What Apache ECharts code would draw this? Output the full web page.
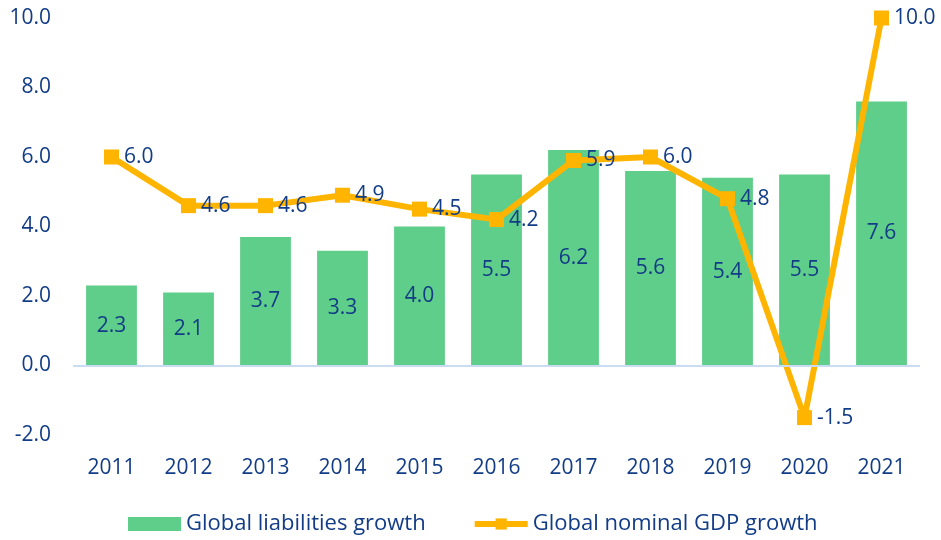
<!DOCTYPE html>
<html>
<head>
<meta charset="utf-8">
<script src="https://cdn.jsdelivr.net/npm/echarts@6/dist/echarts.min.js"></script>
<style>
  html, body { margin: 0; padding: 0; background: #fff; }
  #main { width: 941px; height: 540px; }
</style>
</head>
<body>
<div id="main"></div>
<script>
var years = ['2011','2012','2013','2014','2015','2016','2017','2018','2019','2020','2021'];
var liabilities = [2.3, 2.1, 3.7, 3.3, 4.0, 5.5, 6.2, 5.6, 5.4, 5.5, 7.6];
var nominalGdp = [6.0, 4.6, 4.6, 4.9, 4.5, 4.2, 5.9, 6.0, 4.8, -1.5, 10.0];

var textColor = '#123c86';
var fontFam = '"Open Sans", Lato, sans-serif';

var chart = echarts.init(document.getElementById('main'));
var option = {
    animation: false,
    textStyle: { fontFamily: fontFam },
    grid: { left: 73, right: 21, top: 18, bottom: 105 },
    legend: {
        top: 508,
        left: 123,
        itemWidth: 53,
        itemHeight: 14,
        itemGap: 46,
        lineStyle: { width: 6 },
        textStyle: { color: textColor, fontSize: 22, fontFamily: fontFam },
        data: [
            { name: 'Global liabilities growth', icon: 'rect' },
            { name: 'Global nominal GDP growth' }
        ]
    },
    xAxis: {
        type: 'category',
        data: years,
        axisLine: { show: false, onZero: false },
        axisTick: { show: false },
        axisLabel: { color: textColor, fontSize: 21, margin: 23 }
    },
    yAxis: {
        type: 'value',
        min: -2,
        max: 10,
        interval: 2,
        splitLine: { show: false },
        axisLabel: {
            color: textColor,
            fontSize: 21,
            margin: 22,
            formatter: function (v) { return v.toFixed(1); }
        }
    },
    series: [
        {
            name: 'Global liabilities growth',
            type: 'bar',
            data: liabilities,
            barWidth: '66%',
            itemStyle: { color: '#5fce8a' },
            label: {
                show: true,
                position: 'inside',
                color: textColor,
                fontSize: 21,
                formatter: function (p) { return p.value.toFixed(1); }
            },
            markLine: {
                silent: true,
                symbol: 'none',
                label: { show: false },
                lineStyle: { color: '#c9dcf2', type: 'solid', width: 2 },
                data: [{ yAxis: 0 }]
            }
        },
        {
            name: 'Global nominal GDP growth',
            type: 'line',
            data: nominalGdp,
            z: 3,
            symbol: 'rect',
            symbolSize: 15,
            lineStyle: { color: '#ffb400', width: 6 },
            itemStyle: { color: '#ffb400' },
            label: {
                show: true,
                position: 'right',
                distance: 5,
                color: textColor,
                fontSize: 21,
                formatter: function (p) { return p.value.toFixed(1); }
            }
        }
    ]
};
chart.setOption(option);
</script>
</body>
</html>
